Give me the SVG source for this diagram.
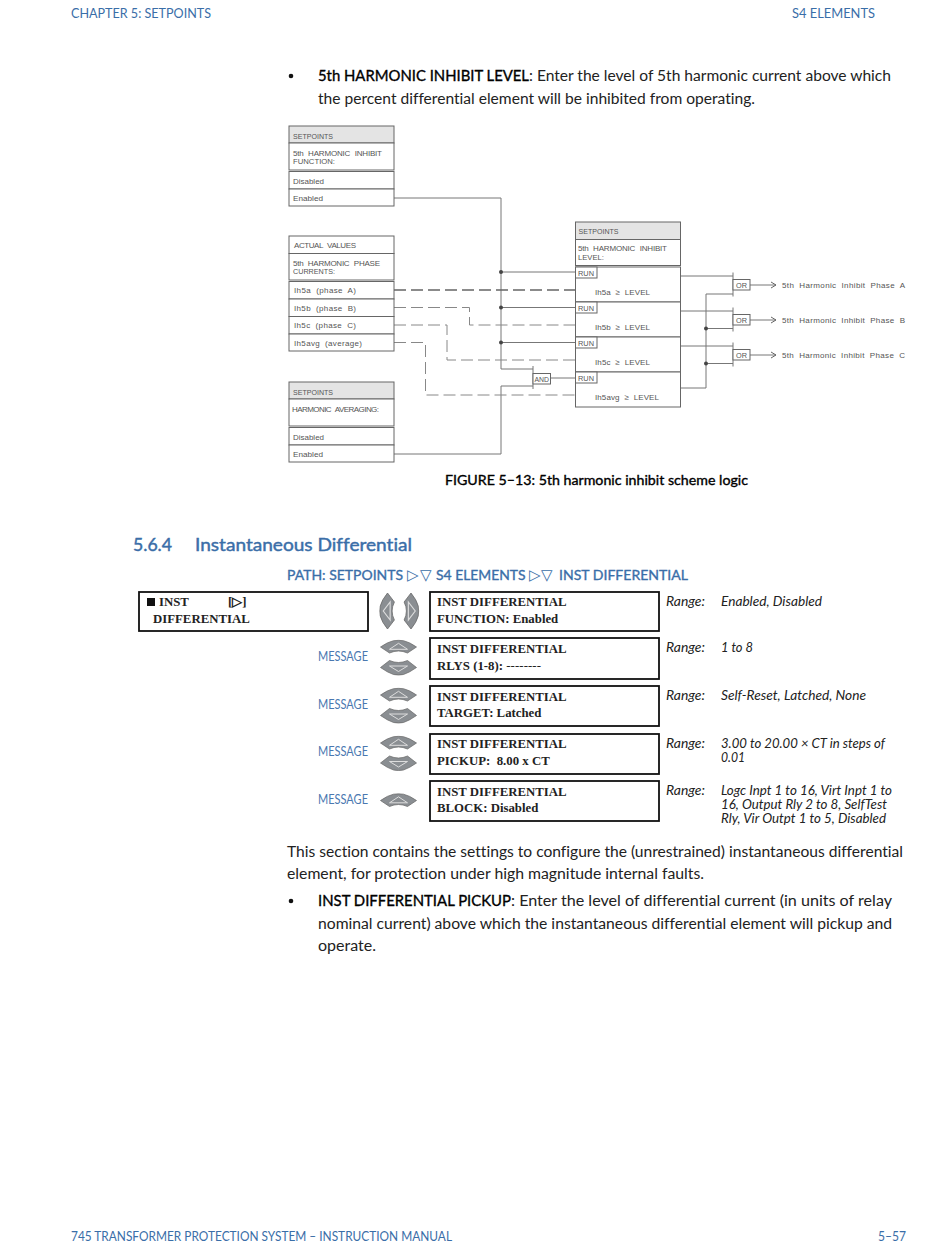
<svg xmlns="http://www.w3.org/2000/svg" width="950" height="1260" viewBox="0 0 950 1260">
<style>
text{white-space:pre;font-variant-ligatures:none}
.b{font-family:Lato,"Noto Sans",sans-serif;font-size:15.5px;fill:#222}
.bb{font-family:Lato,"Noto Sans",sans-serif;font-size:15.5px;fill:#000;stroke:#000;stroke-width:.35}
.h{font-family:Lato,"Noto Sans",sans-serif;font-size:13.5px;fill:#3a6ea8}
.s{font-family:Lato,"Noto Sans",sans-serif;font-size:18px;fill:#3a6ea8;stroke:#3a6ea8;stroke-width:.45}
.p{font-family:Lato,"Noto Sans",sans-serif;font-size:14px;fill:#3a6ea8;stroke:#3a6ea8;stroke-width:.35}
.tr{font-family:"DejaVu Sans",sans-serif;font-size:15px;fill:#3a6ea8}
.d{font-family:"Liberation Sans",Arial,sans-serif;font-size:8px;fill:#555;word-spacing:2.5px}
.box{fill:#fff;stroke:#666;stroke-width:1}
.hd{fill:#e4e4e4;stroke:#666;stroke-width:1}
.w{fill:none;stroke:#777;stroke-width:1}
.da{fill:none;stroke:#888;stroke-width:1;stroke-dasharray:12 5}
.dot{fill:#444}
.lcd{fill:#fff;stroke:#111;stroke-width:1.8}
.t{font-family:"Liberation Serif","Times New Roman",serif;font-size:12.8px;font-weight:bold;fill:#222}
.r{font-family:Lato,"Noto Sans",sans-serif;font-size:13px;font-style:italic;fill:#222}
.m{font-family:Lato,"Noto Sans",sans-serif;font-size:13px;fill:#4a78b0}
.k{fill:#8a8e92;stroke:#666;stroke-width:.7}
.i{fill:none;stroke:#ddd;stroke-width:1}
</style>
<defs>
<marker id="oa" markerWidth="8" markerHeight="8" refX="6" refY="4" orient="auto" markerUnits="userSpaceOnUse"><path d="M1 1 L6 4 L1 7" fill="none" stroke="#666" stroke-width="1"/></marker>
<g id="up"><path class="k" d="M-18 0 Q-11-5-5-6.300 Q0-7 5-6.300 Q11-5 18 0 L9 6 Q0 2-9 6Z"/><path class="i" d="M-9 2.300 L0-3.700 L9 2.300Z"/></g>
<g id="dn"><path class="k" d="M-18 0 L-9-7 Q0-3 9-7 L18 0 Q11 5 5 7 Q0 8-5 7 Q-11 5-18 0Z"/><path class="i" d="M-9-1.500 L0 4 L9-1.500Z"/></g>
</defs>
<rect width="950" height="1260" fill="#fff"/>
<g id="page-text">
<text class="h" x="71" y="18" textLength="140" lengthAdjust="spacingAndGlyphs">CHAPTER 5: SETPOINTS</text>
<text class="h" x="792" y="18" textLength="83" lengthAdjust="spacingAndGlyphs">S4 ELEMENTS</text>
<circle cx="291" cy="76" r="2.300" fill="#111"/>
<text class="bb" x="318" y="81" textLength="211" lengthAdjust="spacingAndGlyphs">5th HARMONIC INHIBIT LEVEL</text>
<text class="b" x="529" y="81" textLength="362" lengthAdjust="spacingAndGlyphs">: Enter the level of 5th harmonic current above which</text>
<text class="b" x="318" y="104" textLength="437" lengthAdjust="spacingAndGlyphs">the percent differential element will be inhibited from operating.</text>
<text class="bb" x="445" y="485" style="font-size:13.5px" textLength="303" lengthAdjust="spacingAndGlyphs">FIGURE 5–13: 5th harmonic inhibit scheme logic</text>
<text class="s" x="133" y="551" textLength="39" lengthAdjust="spacingAndGlyphs">5.6.4</text>
<text class="s" x="195" y="551" textLength="217" lengthAdjust="spacingAndGlyphs">Instantaneous Differential</text>
<text class="p" x="287" y="580" textLength="116" lengthAdjust="spacingAndGlyphs">PATH: SETPOINTS</text>
<text class="tr" x="407" y="580">▷</text><text class="tr" x="420" y="580">▽</text>
<text class="p" x="436" y="580" textLength="89.500" lengthAdjust="spacingAndGlyphs">S4 ELEMENTS</text>
<text class="tr" x="529" y="580">▷</text><text class="tr" x="541" y="580">▽</text>
<text class="p" x="559" y="580" textLength="129" lengthAdjust="spacingAndGlyphs">INST DIFFERENTIAL</text>
<text class="b" x="287" y="857" textLength="616" lengthAdjust="spacingAndGlyphs">This section contains the settings to configure the (unrestrained) instantaneous differential</text>
<text class="b" x="287" y="879" textLength="417" lengthAdjust="spacingAndGlyphs">element, for protection under high magnitude internal faults.</text>
<circle cx="291" cy="901" r="2.300" fill="#111"/>
<text class="bb" x="318" y="906" textLength="193" lengthAdjust="spacingAndGlyphs">INST DIFFERENTIAL PICKUP</text>
<text class="b" x="511" y="906" textLength="381" lengthAdjust="spacingAndGlyphs">: Enter the level of differential current (in units of relay</text>
<text class="b" x="318" y="929" textLength="574" lengthAdjust="spacingAndGlyphs">nominal current) above which the instantaneous differential element will pickup and</text>
<text class="b" x="318" y="951" textLength="58" lengthAdjust="spacingAndGlyphs">operate.</text>
<text class="h" x="71" y="1241" textLength="381" lengthAdjust="spacingAndGlyphs">745 TRANSFORMER PROTECTION SYSTEM – INSTRUCTION MANUAL</text>
<text class="h" x="878" y="1241" textLength="28" lengthAdjust="spacingAndGlyphs">5–57</text>
</g>
<g id="connectors">
<path class="w" d="M394 198H501V369H533M394 454H501V386H533M533 366V389M550 378H575M501 272H575M501 307.500H575M501 342.500H575"/>
<path class="da" d="M394 290H575" style="stroke-width:1.600;stroke:#666"/>
<path class="da" d="M394 307.500H469.500V325H575"/>
<path class="da" d="M394 325H447V360H575"/>
<path class="da" d="M394 342.500H425.500V395H575"/>
<path class="w" d="M680 276H733M733 272.500V296.500M706 294H733M680 311H733M733 307.500V331.500M706 328.500H733M680 346H733M733 342.500V366.500M706 363.500H733M680 388H706V294"/>
<path class="w" d="M750 285H776" marker-end="url(#oa)"/>
<path class="w" d="M750 320H776" marker-end="url(#oa)"/>
<path class="w" d="M750 355H776" marker-end="url(#oa)"/>
<circle class="dot" cx="501" cy="272" r="2"/><circle class="dot" cx="501" cy="307.500" r="2"/><circle class="dot" cx="501" cy="342.500" r="2"/>
<circle class="dot" cx="706" cy="328.500" r="2"/><circle class="dot" cx="706" cy="363.500" r="2"/>
</g>
<g id="sp-function">
<rect class="hd" x="289" y="126" width="105" height="17"/><rect class="box" x="289" y="143" width="105" height="27"/><rect class="box" x="289" y="171.500" width="105" height="17.500"/><rect class="box" x="289" y="189" width="105" height="17"/>
<text class="d" x="293" y="138.500" textLength="40" lengthAdjust="spacingAndGlyphs">SETPOINTS</text><text class="d" x="293" y="155.500" textLength="89" lengthAdjust="spacing">5th HARMONIC INHIBIT</text><text class="d" x="293" y="164" textLength="42" lengthAdjust="spacingAndGlyphs">FUNCTION:</text><text class="d" x="293" y="183.500" textLength="31" lengthAdjust="spacingAndGlyphs">Disabled</text><text class="d" x="293" y="201" textLength="30" lengthAdjust="spacingAndGlyphs">Enabled</text>
</g>
<g id="actual-values">
<rect class="box" x="289" y="236" width="105" height="17.500"/><rect class="box" x="289" y="253.500" width="105" height="26.500"/><rect class="box" x="289" y="281.500" width="105" height="17.500"/><rect class="box" x="289" y="299" width="105" height="17.500"/><rect class="box" x="289" y="316.500" width="105" height="17.500"/><rect class="box" x="289" y="334" width="105" height="17"/>
<text class="d" x="294" y="248" textLength="62" lengthAdjust="spacing">ACTUAL VALUES</text><text class="d" x="293" y="265.500" textLength="87" lengthAdjust="spacing">5th HARMONIC PHASE</text><text class="d" x="293" y="274" textLength="42" lengthAdjust="spacingAndGlyphs">CURRENTS:</text><text class="d" x="294" y="293" textLength="62" lengthAdjust="spacing">Ih5a (phase A)</text><text class="d" x="294" y="311" textLength="62" lengthAdjust="spacing">Ih5b (phase B)</text><text class="d" x="294" y="328" textLength="62" lengthAdjust="spacing">Ih5c (phase C)</text><text class="d" x="294" y="346" textLength="68" lengthAdjust="spacing">Ih5avg (average)</text>
</g>
<g id="sp-averaging">
<rect class="hd" x="289" y="382" width="105" height="17"/><rect class="box" x="289" y="399" width="105" height="27"/><rect class="box" x="289" y="427.500" width="105" height="17.500"/><rect class="box" x="289" y="445" width="105" height="17"/>
<text class="d" x="293" y="394.500" textLength="40" lengthAdjust="spacingAndGlyphs">SETPOINTS</text><text class="d" x="292" y="411.500" textLength="87" lengthAdjust="spacing">HARMONIC AVERAGING:</text><text class="d" x="293" y="439.500" textLength="31" lengthAdjust="spacingAndGlyphs">Disabled</text><text class="d" x="293" y="457" textLength="30" lengthAdjust="spacingAndGlyphs">Enabled</text>
</g>
<g id="sp-level">
<rect class="hd" x="575.500" y="222" width="105" height="17.500"/><rect class="box" x="575.500" y="239.500" width="105" height="26"/><rect class="box" x="575.500" y="267" width="105" height="35"/><rect class="box" x="575.500" y="302" width="105" height="35"/><rect class="box" x="575.500" y="337" width="105" height="35"/><rect class="box" x="575.500" y="372" width="105" height="35"/>
<rect class="box" x="575.500" y="267" width="21.500" height="11"/><rect class="box" x="575.500" y="302" width="21.500" height="11"/><rect class="box" x="575.500" y="337" width="21.500" height="11"/><rect class="box" x="575.500" y="372" width="21.500" height="11"/>
<text class="d" x="578.500" y="234" textLength="40" lengthAdjust="spacingAndGlyphs">SETPOINTS</text><text class="d" x="578" y="251" textLength="89" lengthAdjust="spacing">5th HARMONIC INHIBIT</text><text class="d" x="578" y="259.500" textLength="26" lengthAdjust="spacingAndGlyphs">LEVEL:</text>
<text class="d" x="578" y="276" textLength="16" lengthAdjust="spacingAndGlyphs">RUN</text><text class="d" x="578" y="311" textLength="16" lengthAdjust="spacingAndGlyphs">RUN</text><text class="d" x="578" y="346" textLength="16" lengthAdjust="spacingAndGlyphs">RUN</text><text class="d" x="578" y="381" textLength="16" lengthAdjust="spacingAndGlyphs">RUN</text>
<text class="d" x="595" y="295" textLength="55" lengthAdjust="spacing">Ih5a ≥ LEVEL</text><text class="d" x="595" y="330" textLength="55" lengthAdjust="spacing">Ih5b ≥ LEVEL</text><text class="d" x="595" y="365" textLength="55" lengthAdjust="spacing">Ih5c ≥ LEVEL</text><text class="d" x="595" y="400" textLength="64" lengthAdjust="spacing">Ih5avg ≥ LEVEL</text>
</g>
<g id="and-gate"><rect class="box" x="533" y="373.500" width="17.500" height="10.500"/><text class="d" x="534.500" y="381.500" textLength="14.500" lengthAdjust="spacingAndGlyphs">AND</text></g>
<g id="or-a"><rect class="box" x="733" y="279.500" width="17" height="10.500"/><text class="d" x="736" y="288" textLength="11" lengthAdjust="spacingAndGlyphs">OR</text><text class="d" x="782" y="288" textLength="123" lengthAdjust="spacing">5th Harmonic Inhibit Phase A</text></g>
<g id="or-b"><rect class="box" x="733" y="314.500" width="17" height="10.500"/><text class="d" x="736" y="323" textLength="11" lengthAdjust="spacingAndGlyphs">OR</text><text class="d" x="782" y="323" textLength="123" lengthAdjust="spacing">5th Harmonic Inhibit Phase B</text></g>
<g id="or-c"><rect class="box" x="733" y="349.500" width="17" height="10.500"/><text class="d" x="736" y="358" textLength="11" lengthAdjust="spacingAndGlyphs">OR</text><text class="d" x="782" y="358" textLength="123" lengthAdjust="spacing">5th Harmonic Inhibit Phase C</text></g>
<g id="menu">
<rect class="lcd" x="139" y="592" width="229" height="39"/>
<rect x="147" y="598" width="8" height="8" fill="#111"/>
<text class="t" x="159" y="606">INST</text><text class="t" x="228" y="606">[▷]</text><text class="t" x="153" y="623">DIFFERENTIAL</text>
<use href="#up" transform="translate(387.500 611) rotate(-90) scale(1 1.150)"/>
<use href="#up" transform="translate(411 611) rotate(90) scale(1 1.150)"/>
</g>
<g id="row-function"><rect class="lcd" x="430" y="592" width="229" height="39"/><text class="t" x="437" y="606">INST DIFFERENTIAL</text><text class="t" x="437" y="623">FUNCTION: Enabled</text><text class="r" x="666" y="606" textLength="39" lengthAdjust="spacingAndGlyphs">Range:</text><text class="r" x="721" y="606" textLength="101" lengthAdjust="spacingAndGlyphs">Enabled, Disabled</text></g>
<g id="row-rlys"><rect class="lcd" x="430" y="638" width="229" height="41"/><text class="t" x="437" y="653">INST DIFFERENTIAL</text><text class="t" x="437" y="670">RLYS (1-8): <tspan font-weight="normal" letter-spacing=".1">--------</tspan></text><text class="r" x="666" y="652" textLength="39" lengthAdjust="spacingAndGlyphs">Range:</text><text class="r" x="721" y="652" textLength="32" lengthAdjust="spacingAndGlyphs">1 to 8</text><text class="m" x="318" y="661" textLength="50" lengthAdjust="spacingAndGlyphs">MESSAGE</text><use href="#up" x="398.500" y="647"/><use href="#dn" x="398.500" y="667.500"/></g>
<g id="row-target"><rect class="lcd" x="430" y="686" width="229" height="40"/><text class="t" x="437" y="701">INST DIFFERENTIAL</text><text class="t" x="437" y="717">TARGET: Latched</text><text class="r" x="666" y="700" textLength="39" lengthAdjust="spacingAndGlyphs">Range:</text><text class="r" x="721" y="700" textLength="145" lengthAdjust="spacingAndGlyphs">Self-Reset, Latched, None</text><text class="m" x="318" y="709" textLength="50" lengthAdjust="spacingAndGlyphs">MESSAGE</text><use href="#up" x="398.500" y="695"/><use href="#dn" x="398.500" y="715.500"/></g>
<g id="row-pickup"><rect class="lcd" x="430" y="734" width="229" height="40"/><text class="t" x="437" y="748">INST DIFFERENTIAL</text><text class="t" x="437" y="765">PICKUP:  8.00 x CT</text><text class="r" x="666" y="748" textLength="39" lengthAdjust="spacingAndGlyphs">Range:</text><text class="r" x="721" y="748" textLength="164" lengthAdjust="spacingAndGlyphs">3.00 to 20.00 × CT in steps of</text><text class="r" x="721" y="762" textLength="24" lengthAdjust="spacingAndGlyphs">0.01</text><text class="m" x="318" y="756" textLength="50" lengthAdjust="spacingAndGlyphs">MESSAGE</text><use href="#up" x="398.500" y="743"/><use href="#dn" x="398.500" y="763"/></g>
<g id="row-block"><rect class="lcd" x="430" y="781" width="229" height="40"/><text class="t" x="437" y="796">INST DIFFERENTIAL</text><text class="t" x="437" y="812">BLOCK: Disabled</text><text class="r" x="666" y="795" textLength="39" lengthAdjust="spacingAndGlyphs">Range:</text><text class="r" x="721" y="795" textLength="171" lengthAdjust="spacingAndGlyphs">Logc Inpt 1 to 16, Virt Inpt 1 to</text><text class="r" x="721" y="809" textLength="166" lengthAdjust="spacingAndGlyphs">16, Output Rly 2 to 8, SelfTest</text><text class="r" x="721" y="823" textLength="165" lengthAdjust="spacingAndGlyphs">Rly, Vir Outpt 1 to 5, Disabled</text><text class="m" x="318" y="804" textLength="50" lengthAdjust="spacingAndGlyphs">MESSAGE</text><use href="#up" x="398.500" y="800.500"/></g>
</svg>
